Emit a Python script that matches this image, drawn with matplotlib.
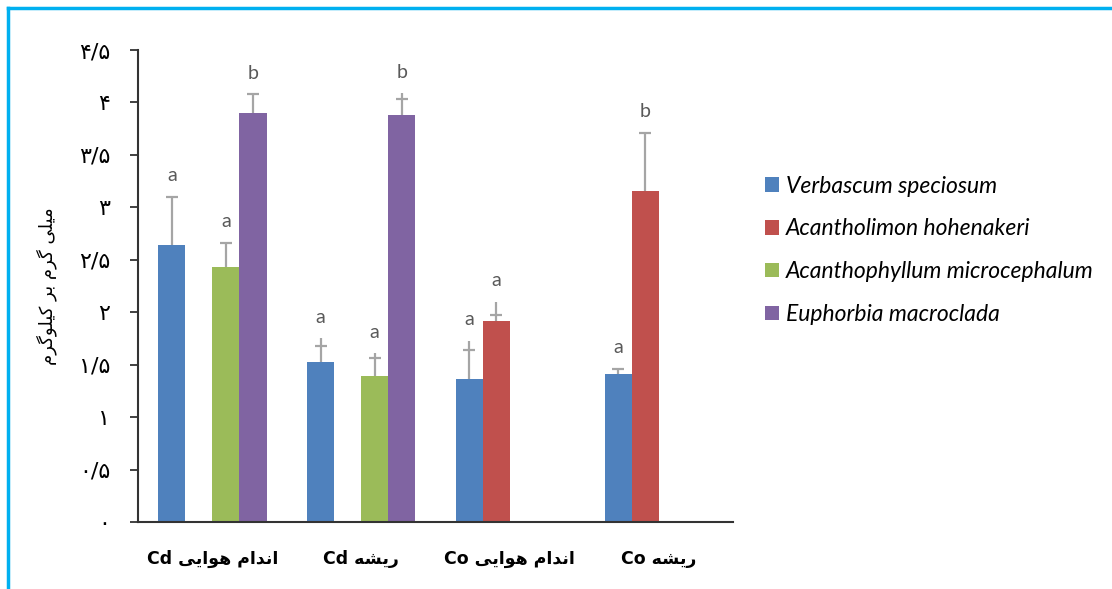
import matplotlib
matplotlib.use("Agg")
import matplotlib.pyplot as plt
from matplotlib.lines import Line2D
from matplotlib.patches import Patch
import numpy as np

# Persian text written in presentation forms, visual (left-to-right) order,
# since matplotlib does no Arabic shaping.
GROUPS = [
    "Cd \ufbfd\ufbfe\ufe8d\ufeee\ufeeb \ufee1\ufe8d\ufeaa\ufee7\ufe8d",   # اندام هوایی Cd
    "Cd \ufeea\ufeb8\ufbfe\ufead",                                         # ریشه Cd
    "Co \ufbfd\ufbfe\ufe8d\ufeee\ufeeb \ufee1\ufe8d\ufeaa\ufee7\ufe8d",   # اندام هوایی Co
    "Co \ufeea\ufeb8\ufbfe\ufead",                                         # ریشه Co
]
YLABEL = ("\ufee1\ufeae\ufb94\ufeee\ufee0\ufbff\ufb90 \ufeae\ufe91 "
          "\ufee1\ufeae\ufb94 \ufbfd\ufee0\ufbff\ufee3")                   # میلی گرم بر کیلوگرم
YTICKS = [0, 0.5, 1, 1.5, 2, 2.5, 3, 3.5, 4, 4.5]
YTICK_LABELS = ["\u06f0", "\u06f0/\u06f5", "\u06f1", "\u06f1/\u06f5", "\u06f2",
                "\u06f2/\u06f5", "\u06f3", "\u06f3/\u06f5", "\u06f4", "\u06f4/\u06f5"]

SPECIES = ["Verbascum speciosum", "Acantholimon hohenakeri",
           "Acanthophyllum microcephalum", "Euphorbia macroclada"]
COLORS = ["#4F81BD", "#C0504D", "#9BBB59", "#8064A2"]

nan = np.nan
verbascum = [2.64, 1.53, 1.36, 1.41]
acantholimon = [nan, nan, 1.92, 3.16]
acanthophyllum = [2.43, 1.39, nan, nan]
euphorbia = [3.90, 3.88, nan, nan]

# error bar: position of cap and top of the whisker line
verbascum_cap = [0.46, 0.15, 0.28, 0.05]
verbascum_line = [0.46, 0.22, 0.37, 0.05]
acantholimon_cap = [nan, nan, 0.05, 0.55]
acantholimon_line = [nan, nan, 0.18, 0.55]
acanthophyllum_cap = [0.23, 0.17, nan, nan]
acanthophyllum_line = [0.23, 0.22, nan, nan]
euphorbia_cap = [0.18, 0.15, nan, nan]
euphorbia_line = [0.18, 0.21, nan, nan]

verbascum_sig = ["a", "a", "a", "a"]
acantholimon_sig = ["", "", "a", "b"]
acanthophyllum_sig = ["a", "a", "", ""]
euphorbia_sig = ["b", "b", "", ""]

series = [
    (verbascum, verbascum_cap, verbascum_line, verbascum_sig),
    (acantholimon, acantholimon_cap, acantholimon_line, acantholimon_sig),
    (acanthophyllum, acanthophyllum_cap, acanthophyllum_line, acanthophyllum_sig),
    (euphorbia, euphorbia_cap, euphorbia_line, euphorbia_sig),
]

fig = plt.figure(figsize=(11.12, 5.89), dpi=100)
ax = fig.add_axes([0.1241, 0.1138, 0.5351, 0.8013])

x = np.arange(len(GROUPS))
width = 0.182
offsets = (np.arange(4) - 1.5) * width

for i, (vals, cap, line, sig) in enumerate(series):
    vals = np.array(vals, dtype=float)
    cap = np.array(cap, dtype=float)
    line = np.array(line, dtype=float)
    xs = x + offsets[i]
    ax.bar(xs, vals, width, color=COLORS[i], zorder=2)
    zeros = np.zeros_like(vals)
    # whisker line, then the cap as a short horizontal marker
    ax.errorbar(xs, vals, yerr=[zeros, line], fmt="none", ecolor="#A5A5A5",
                elinewidth=1.6, capsize=0, zorder=3)
    ax.plot(xs, vals + cap, linestyle="none", marker="_", markersize=9,
            markeredgewidth=1.6, color="#A5A5A5", zorder=3)
    for xi, v, l, s in zip(xs, vals, line, sig):
        if s and not np.isnan(v):
            ax.annotate(s, (xi, v + l), xytext=(0, 9), textcoords="offset points",
                        ha="center", va="bottom", fontsize=14, color="#595959",
                        family=["Lato", "DejaVu Sans"])

ax.set_xlim(-0.5, 3.5)
ax.set_ylim(0, 4.5)
ax.set_xticks(x)
ax.set_xticklabels(GROUPS, fontsize=12.5, fontweight="bold", family="DejaVu Sans")
ax.tick_params(axis="x", length=0, pad=20)
ax.set_yticks(YTICKS)
ax.set_yticklabels(YTICK_LABELS, fontsize=16, family="DejaVu Sans")
ax.tick_params(axis="y", length=6, width=1.3, color="#333333", pad=14)
ax.set_ylabel(YLABEL, fontsize=13, family="DejaVu Sans", labelpad=16)

for side in ["top", "right"]:
    ax.spines[side].set_visible(False)
for side in ["left", "bottom"]:
    ax.spines[side].set_linewidth(1.5)
    ax.spines[side].set_color("#333333")

handles = [Patch(facecolor=c, edgecolor="none") for c in COLORS]
leg = fig.legend(handles, SPECIES, loc="center left", bbox_to_anchor=(0.688, 0.575),
                 frameon=False, borderpad=0, borderaxespad=0,
                 handlelength=0.6, handleheight=0.6,
                 handletextpad=0.3, labelspacing=0.95,
                 prop={"family": "Lato", "style": "italic", "size": 16.5})

# frame lines along the top and left of the picture
fig.add_artist(Line2D([0.0072, 1.0], [0.9864, 0.9864], color="#00B0F0", lw=2.5))
fig.add_artist(Line2D([0.0072, 0.0072], [0.0, 0.9864], color="#00B0F0", lw=2.5))

fig.savefig("out.png", dpi=100, facecolor="white")
